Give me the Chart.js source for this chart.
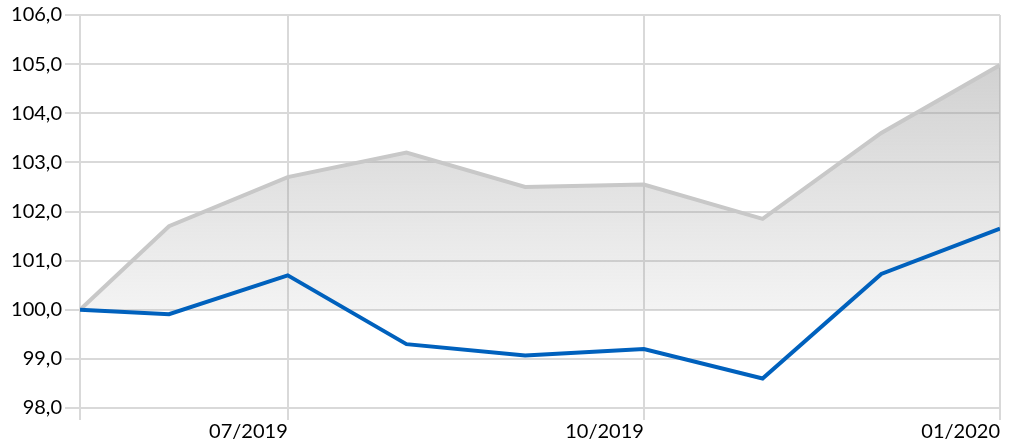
<!DOCTYPE html>
<html>
<head>
<meta charset="utf-8">
<script src="https://cdn.jsdelivr.net/npm/chart.js@4/dist/chart.umd.min.js"></script>
<style>
  html, body { margin: 0; padding: 0; background: #fff; }
  #wrap { width: 1010px; height: 446px; }
</style>
</head>
<body>
<div id="wrap"><canvas id="chart" width="1010" height="446"></canvas></div>
<script>
// months relative to 07/2019
const monthPos = [-1.75, -1, 0, 1, 2, 3, 4, 5, 6];
const upperSeries = [100.0, 101.7, 102.7, 103.2, 102.5, 102.55, 101.85, 103.6, 104.98];
const mainSeries = [100.0, 99.91, 100.7, 99.3, 99.07, 99.2, 98.6, 100.73, 101.65];
const tickPos = [-1.75, 0, 3, 6];
const tickLabels = ['', '07/2019', '10/2019', '01/2020'];

const gridColor = '#d9d9d9';

function toPoints(values) {
    return values.map((v, i) => ({ x: monthPos[i], y: v }));
}

const ctx = document.getElementById('chart').getContext('2d');

new Chart(ctx, {
    type: 'line',
    data: {
        datasets: [{
            data: toPoints(mainSeries),
            borderColor: '#0061bd',
            borderWidth: 4,
            pointRadius: 0,
            tension: 0,
            fill: false
        }, {
            data: toPoints(upperSeries),
            borderColor: '#c8c8c8',
            borderWidth: 4,
            pointRadius: 0,
            tension: 0,
            fill: { value: 100 },
            backgroundColor: function (context) {
                const chart = context.chart;
                const area = chart.chartArea;
                if (!area) return 'rgba(150,150,150,0.25)';
                const yScale = chart.scales.y;
                const top = yScale.getPixelForValue(105);
                const bottom = yScale.getPixelForValue(100);
                const g = chart.ctx.createLinearGradient(0, top, 0, bottom);
                g.addColorStop(0, 'rgba(150,150,150,0.44)');
                g.addColorStop(1, 'rgba(150,150,150,0.11)');
                return g;
            }
        }]
    },
    options: {
        responsive: false,
        animation: false,
        layout: { padding: { top: 14, right: 10, left: 0, bottom: 0 } },
        plugins: {
            legend: { display: false },
            tooltip: { enabled: false }
        },
        scales: {
            x: {
                type: 'linear',
                min: -1.75,
                max: 6,
                afterBuildTicks: function (scale) {
                    scale.ticks = tickPos.map(v => ({ value: v }));
                },
                afterFit: function (scale) { scale.height = 38; },
                grid: {
                    color: gridColor,
                    lineWidth: 2,
                    tickLength: 12,
                    drawTicks: true
                },
                border: { color: gridColor, width: 2 },
                ticks: {
                    align: 'end',
                    padding: 0,
                    maxRotation: 0,
                    autoSkip: false,
                    color: '#000',
                    font: { family: 'Lato', size: 20 },
                    callback: function (value) {
                        const i = tickPos.indexOf(value);
                        return i >= 0 ? tickLabels[i] : '';
                    }
                }
            },
            y: {
                min: 98,
                max: 106,
                afterFit: function (scale) { scale.width = 80; },
                grid: {
                    color: gridColor,
                    lineWidth: 2,
                    tickLength: 15
                },
                border: { color: gridColor, width: 2 },
                ticks: {
                    stepSize: 1,
                    padding: 3,
                    color: '#000',
                    font: { family: 'Lato', size: 20 },
                    callback: function (value) {
                        return value.toFixed(1).replace('.', ',');
                    }
                }
            }
        }
    }
});
</script>
</body>
</html>
